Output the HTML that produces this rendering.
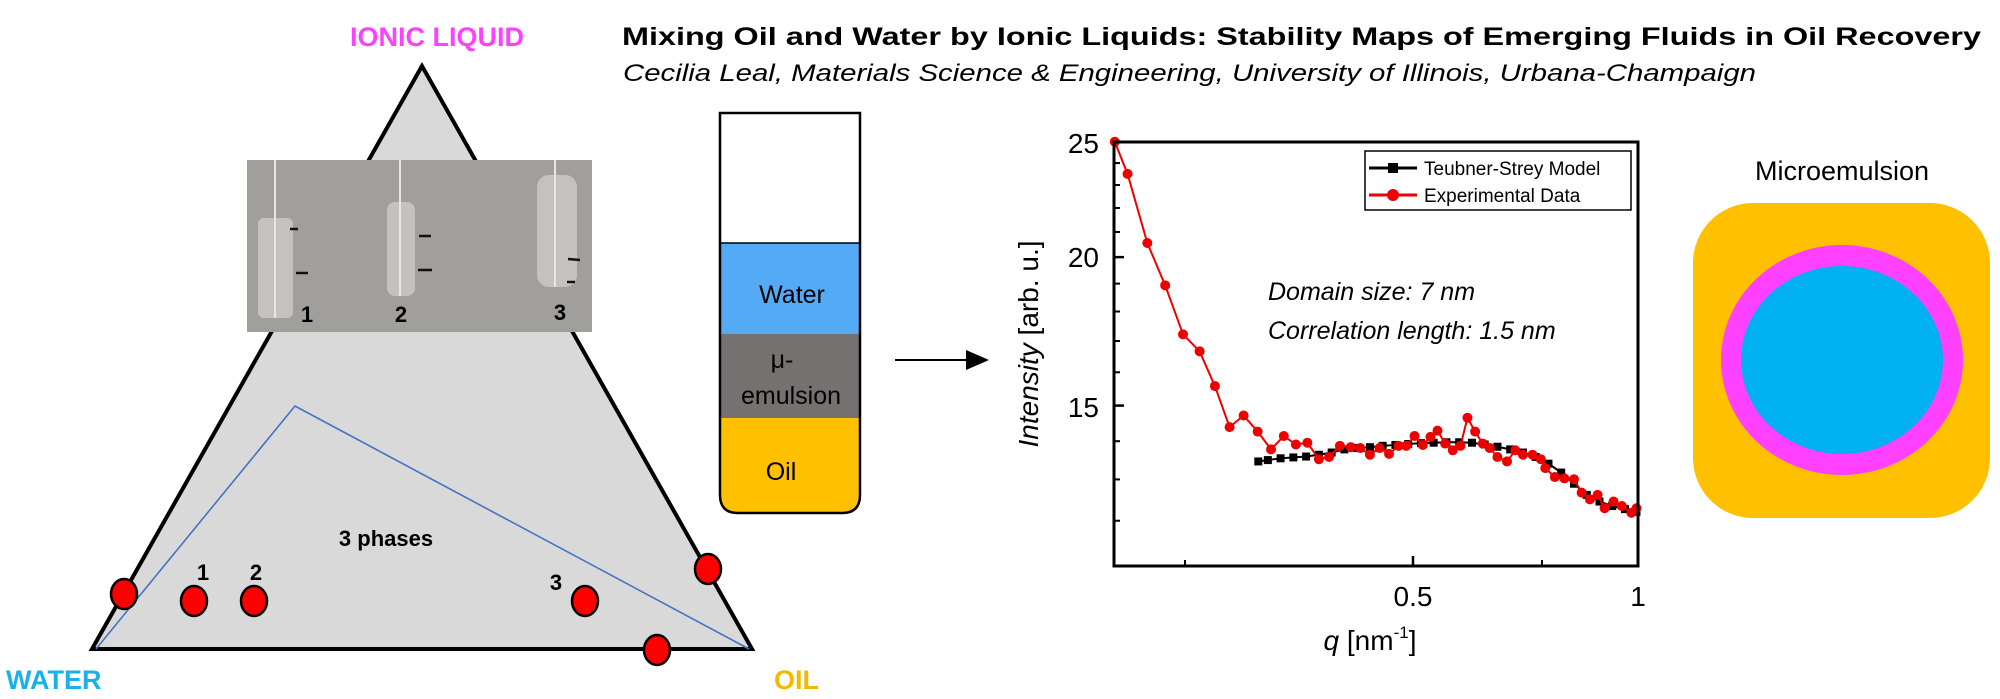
<!DOCTYPE html>
<html><head><meta charset="utf-8"><style>
html,body{margin:0;padding:0;background:#fff;}
svg{display:block;}
text{font-family:"Liberation Sans",sans-serif;}
</style></head><body>
<svg id="s" width="2000" height="699" viewBox="0 0 2000 699" xmlns="http://www.w3.org/2000/svg">
<!-- triangle -->
<polygon points="422,66 92,649 752,649" fill="#d9d9d9" stroke="#000" stroke-width="4" stroke-linejoin="miter"/>
<polyline points="96,649 295,406 749,649" fill="none" stroke="#4472c4" stroke-width="1.6"/>
<!-- photo -->
<rect x="247" y="160" width="345" height="172" fill="#a19f9b"/>
<g fill="#c9c8c5" opacity="0.85">
<rect x="258" y="218" width="35" height="100" rx="6"/>
<rect x="387" y="202" width="28" height="94" rx="8"/>
<rect x="537" y="175" width="40" height="112" rx="12"/>
</g>
<g stroke="#e6e6e4" stroke-width="2">
<line x1="275" y1="160" x2="275" y2="318"/><line x1="400" y1="160" x2="400" y2="296"/><line x1="555" y1="160" x2="555" y2="287"/>
</g>
<g stroke="#111" stroke-width="2.5">
<line x1="290" y1="229" x2="298" y2="229"/><line x1="296" y1="273" x2="308" y2="273"/>
<line x1="419" y1="236" x2="431" y2="236"/><line x1="418" y1="270" x2="432" y2="270"/>
<line x1="568" y1="259" x2="580" y2="260"/><line x1="567" y1="282" x2="575" y2="282"/>
</g>
<g font-weight="bold" font-size="22" fill="#000" text-anchor="middle">
<text x="307" y="322">1</text><text x="401" y="322">2</text><text x="560" y="320">3</text>
<text x="386" y="546">3 phases</text>
<text x="203" y="580">1</text><text x="256" y="580">2</text><text x="556" y="590">3</text>
</g>
<g fill="#ff0000" stroke="#000" stroke-width="2.5">
<ellipse cx="124" cy="594" rx="13" ry="15"/>
<ellipse cx="194" cy="601" rx="13" ry="15"/>
<ellipse cx="254" cy="601" rx="13" ry="15"/>
<ellipse cx="585" cy="601" rx="13" ry="15"/>
<ellipse cx="708" cy="569" rx="13" ry="15"/>
<ellipse cx="657" cy="650" rx="13" ry="15"/>
</g>
<text x="437" y="46" font-size="27" font-weight="bold" fill="#ff40ff" text-anchor="middle">IONIC LIQUID</text>
<text x="6" y="689" font-size="27" font-weight="bold" fill="#1ab0e8">WATER</text>
<text x="774" y="689" font-size="27" font-weight="bold" fill="#f5b800">OIL</text>
<!-- title -->
<text x="622" y="45" font-size="25" font-weight="bold" fill="#000" textLength="1359" lengthAdjust="spacingAndGlyphs">Mixing Oil and Water by Ionic Liquids: Stability Maps of Emerging Fluids in Oil Recovery</text>
<text x="623" y="81" font-size="24" font-style="italic" fill="#000" textLength="1133" lengthAdjust="spacingAndGlyphs">Cecilia Leal, Materials Science &amp; Engineering, University of Illinois, Urbana-Champaign</text>
<!-- tube -->
<rect x="720" y="243" width="140" height="91" fill="#55aaf5"/>
<rect x="720" y="334" width="140" height="84" fill="#767171"/>
<path d="M720,418 H860 V495 Q860,513 842,513 H738 Q720,513 720,495 Z" fill="#ffc000"/>
<path d="M720,113 H860 V495 Q860,513 842,513 H738 Q720,513 720,495 Z" fill="none" stroke="#000" stroke-width="2.5"/>
<line x1="720" y1="243" x2="860" y2="243" stroke="#000" stroke-width="1.5"/>
<g font-size="25" fill="#000" text-anchor="middle">
<text x="792" y="303">Water</text>
<text x="782" y="368">μ-</text>
<text x="791" y="404">emulsion</text>
<text x="781" y="480">Oil</text>
</g>
<!-- arrow -->
<line x1="895" y1="360" x2="970" y2="360" stroke="#000" stroke-width="2"/>
<polygon points="966,350 989,360 966,370" fill="#000"/>
<!-- plot -->
<g id="plot"></g>
<rect x="1114" y="142" width="524" height="424" fill="none" stroke="#000" stroke-width="3"/>
<g font-size="28" fill="#000">
<text x="1099" y="153" text-anchor="end">25</text>
<text x="1099" y="267" text-anchor="end">20</text>
<text x="1099" y="417" text-anchor="end">15</text>
<text x="1413" y="606" text-anchor="middle">0.5</text>
<text x="1638" y="606" text-anchor="middle">1</text>
<text transform="translate(1038,344) rotate(-90)" text-anchor="middle"><tspan font-style="italic">Intensity</tspan> [arb. u.]</text>
<text x="1370" y="650" text-anchor="middle"><tspan font-style="italic">q</tspan> [nm<tspan font-size="17" dy="-12">-1</tspan><tspan dy="12">]</tspan></text>
</g>
<g font-size="25" font-style="italic" fill="#000">
<text x="1268" y="300">Domain size: 7 nm</text>
<text x="1268" y="339">Correlation length: 1.5 nm</text>
</g>
<!-- legend -->
<rect x="1365" y="151" width="266" height="59" fill="#fff" stroke="#000" stroke-width="1.5"/>
<line x1="1369" y1="168" x2="1417" y2="168" stroke="#000" stroke-width="3"/>
<rect x="1388" y="163" width="10" height="10" fill="#000"/>
<line x1="1369" y1="195" x2="1417" y2="195" stroke="#e00" stroke-width="3"/>
<circle cx="1393" cy="195" r="6" fill="#e00"/>
<text x="1424" y="175" font-size="19">Teubner-Strey Model</text>
<text x="1424" y="202" font-size="19">Experimental Data</text>
<!-- microemulsion -->
<text x="1842" y="180" font-size="27" text-anchor="middle">Microemulsion</text>
<rect x="1693" y="203" width="297" height="315" rx="60" fill="#ffc000"/>
<ellipse cx="1842" cy="360" rx="121" ry="115" fill="#ff40ff"/>
<ellipse cx="1842" cy="360" rx="101" ry="94" fill="#00b0f0"/>
</svg>
<script>
(function(){
var ns="http://www.w3.org/2000/svg",g=document.getElementById('plot');
function X(z){return 1000+z/1.568;} function Y(z){return z/2.243;}
function el(n,a){var e=document.createElementNS(ns,n);for(var k in a)e.setAttribute(k,a[k]);g.appendChild(e);return e;}
// ticks
var yv=[12,13,14,16,17,18,19,21,22,23,24];
function ly(v){return 142+516*Math.log(25/v);}
[25,20,15].forEach(function(v){el('line',{x1:1114,x2:1124,y1:ly(v),y2:ly(v),stroke:'#000','stroke-width':2.5});});
yv.forEach(function(v){el('line',{x1:1114,x2:1120,y1:ly(v),y2:ly(v),stroke:'#000','stroke-width':2});});
[1413,1638].forEach(function(x){el('line',{x1:x,x2:x,y1:566,y2:556,stroke:'#000','stroke-width':2.5});});
[1185,1542].forEach(function(x){el('line',{x1:x,x2:x,y1:566,y2:560,stroke:'#000','stroke-width':2});});
var blk=[[405,1035],[420,1032],[440,1028],[460,1026],[480,1024],[500,1020],[520,1015],[540,1008],[560,1005],[580,1003],[600,1000],[620,998],[640,996],[660,994],[680,993],[700,992],[720,992],[740,993],[760,997],[780,1002],[800,1008],[820,1015],[840,1025],[860,1040],[880,1060],[900,1085],[920,1110],[940,1125],[960,1135],[980,1142],[998,1148]];
var red=[[180,318],[200,390],[231,545],[259,640],[287,750],[313,788],[337,866],[360,958],[382,932],[404,968],[425,1008],[445,978],[464,997],[482,993],[500,1030],[516,1025],[533,1000],[550,1003],[565,1005],[580,1020],[595,1005],[610,1018],[625,1000],[637,1000],[650,978],[663,998],[675,980],[686,966],[698,995],[710,1010],[722,1000],[733,937],[745,968],[757,995],[768,1005],[780,1025],[795,1035],[808,1010],[820,1020],[835,1020],[848,1030],[855,1050],[870,1070],[885,1073],[900,1075],[912,1105],[925,1120],[937,1110],[948,1140],[962,1125],[975,1135],[990,1150],[998,1140]];
el('polyline',{points:blk.map(function(p){return X(p[0])+','+Y(p[1]);}).join(' '),fill:'none',stroke:'#000','stroke-width':2});
blk.forEach(function(p){el('rect',{x:X(p[0])-4,y:Y(p[1])-4,width:8,height:8,fill:'#000'});});
el('polyline',{points:red.map(function(p){return X(p[0])+','+Y(p[1]);}).join(' '),fill:'none',stroke:'#e00','stroke-width':2});
red.forEach(function(p){el('circle',{cx:X(p[0]),cy:Y(p[1]),r:5,fill:'#e00'});});
})();
</script>
</body></html>
